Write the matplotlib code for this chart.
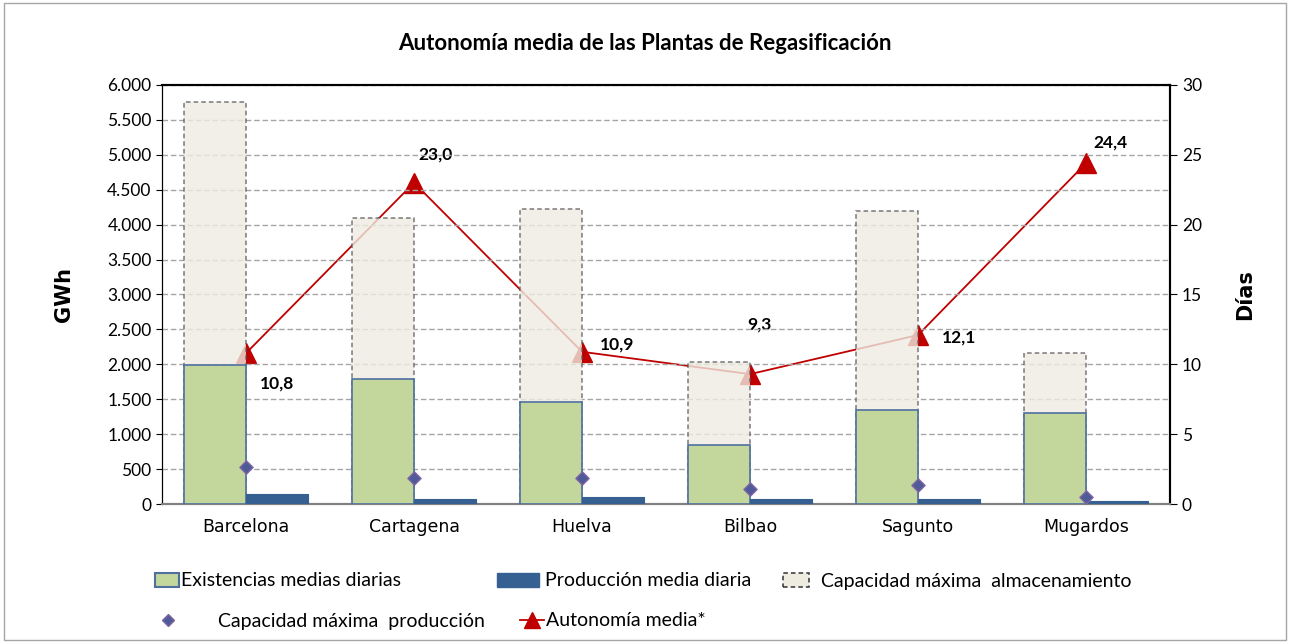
import numpy as np
import matplotlib
matplotlib.use("Agg")
import matplotlib.pyplot as plt
from matplotlib.ticker import FuncFormatter, MultipleLocator
from matplotlib.patches import Rectangle, Patch
from matplotlib.lines import Line2D

plantas = ["Barcelona", "Cartagena", "Huelva", "Bilbao", "Sagunto", "Mugardos"]
capacidad_alm = [5760, 4090, 4230, 2040, 4190, 2160]    # GWh
existencias = [1990, 1790, 1460, 845, 1350, 1310]        # GWh
produccion = [140, 72, 95, 68, 68, 45]                   # GWh
capacidad_prod = [535, 367, 367, 214, 271, 105]          # GWh
autonomia = [10.8, 23.0, 10.9, 9.3, 12.1, 24.4]          # dias
etiquetas = ["10,8", "23,0", "10,9", "9,3", "12,1", "24,4"]

fig = plt.figure(figsize=(12.9, 6.43), dpi=100)
ax = fig.add_axes([0.1256, 0.216, 0.7814, 0.652])
ax2 = ax.twinx()

x = np.arange(len(plantas))
w = 0.37

# linea de autonomia (eje derecho), queda por debajo de las barras
ax2.plot(x, autonomia, color="#C00000", lw=1.3, marker="^", ms=14,
         markerfacecolor="#C00000", markeredgecolor="#C00000", zorder=2)
offsets = [(10, -22), (3, 20), (13, 5), (-2, 36), (17, -2), (5, 15)]
for xi, yi, t, off in zip(x, autonomia, etiquetas, offsets):
    ax2.annotate(t, (xi, yi), xytext=off, textcoords="offset points",
                 fontsize=12.5, fontweight="bold", family="Lato", va="center", ha="left")

ax2.set_ylim(0, 30)
ax2.yaxis.set_major_locator(MultipleLocator(5))
ax2.set_ylabel("Días", fontsize=15, fontweight="bold", labelpad=24)
ax2.tick_params(axis="y", labelsize=12.5, length=5, direction="out")
for lb in ax2.get_yticklabels():
    lb.set_family("Lato")

# eje izquierdo por encima del derecho
ax.set_zorder(ax2.get_zorder() + 1)
ax.patch.set_visible(False)

ax.grid(axis="y", color="#A6A6A6", ls=(0, (4, 2)), lw=1)
ax.set_axisbelow(True)
ax.bar(x - w / 2, capacidad_alm, w, color="#EEECE1", alpha=0.8,
       edgecolor="#595959", ls=(0, (3, 2)), lw=1.1, zorder=2)
ax.bar(x - w / 2, existencias, w, color="#C3D69B", edgecolor="#4F6FA0", lw=1.2, zorder=3)
ax.bar(x + w / 2, produccion, w, color="#376092", edgecolor="#376092", lw=0.8, zorder=3)
ax.scatter(x, capacidad_prod, marker="D", s=45, color="#4F5A99", edgecolor="#8064A2",
           lw=1, zorder=4)

ax.set_xlim(-0.5, len(plantas) - 0.5)
ax.set_ylim(0, 6000)
ax.yaxis.set_major_locator(MultipleLocator(500))
ax.yaxis.set_major_formatter(FuncFormatter(lambda v, p: f"{int(v):,}".replace(",", ".")))
ax.set_xticks(x)
ax.set_xticklabels(plantas, fontsize=12.5)
ax.tick_params(axis="y", labelsize=12.5, length=4)
for lb in ax.get_yticklabels():
    lb.set_family("Lato")
ax.tick_params(axis="x", length=0, pad=10)
ax.set_ylabel("GWh", fontsize=15, fontweight="bold", labelpad=24)

for a in (ax, ax2):
    a.spines["top"].set_color("black")
    a.spines["top"].set_linewidth(1.5)
    a.spines["left"].set_color("black")
    a.spines["right"].set_color("black")
    a.spines["right"].set_linewidth(1.5)
    a.spines["bottom"].set_color("#808080")
    a.spines["bottom"].set_linewidth(1.5)

fig.text(0.5, 0.932, "Autonomía media de las Plantas de Regasificación", ha="center",
         va="center", fontsize=16, fontweight="bold", family="Lato")

# leyenda: cada entrada colocada a mano (x del simbolo, y, largo, separacion)
h_exist = Patch(facecolor="#C3D69B", edgecolor="#4F6FA0", lw=1.5)
h_prod = Patch(facecolor="#376092", edgecolor="#376092")
h_cap = Patch(facecolor="#EEECE1", edgecolor="#333333", ls=(0, (3, 2)), lw=1.1)
h_capprod = Line2D([], [], marker="D", ls="none", ms=6, color="#4F5A99", markeredgecolor="#8064A2")
h_aut = Line2D([], [], color="#C00000", lw=1.3, marker="^", ms=11)

entradas = [
    (h_exist, "Existencias medias diarias", 155, 581, 1.25, 0.1),
    (h_prod, "Producción media diaria", 497, 581, 2.15, 0.3),
    (h_cap, "Capacidad máxima  almacenamiento", 783, 581, 1.35, 0.6),
    (h_capprod, "Capacidad máxima  producción", 155, 621, 1.3, 1.95),
    (h_aut, "Autonomía media*", 520, 621, 1.25, 0.1),
]
W, H = 1290, 643
for h, lab, px, py, hl, tp in entradas:
    fig.legend([h], [lab], loc="center left", bbox_to_anchor=(px / W, 1 - py / H),
               frameon=False, prop={"family": "Lato", "size": 14}, handlelength=hl,
               handletextpad=tp, borderpad=0, borderaxespad=0)

fig.add_artist(Rectangle((0.003, 0.005), 0.994, 0.99, transform=fig.transFigure,
                         fill=False, edgecolor="#A6A6A6", lw=1))

fig.savefig("out.png", dpi=100)
